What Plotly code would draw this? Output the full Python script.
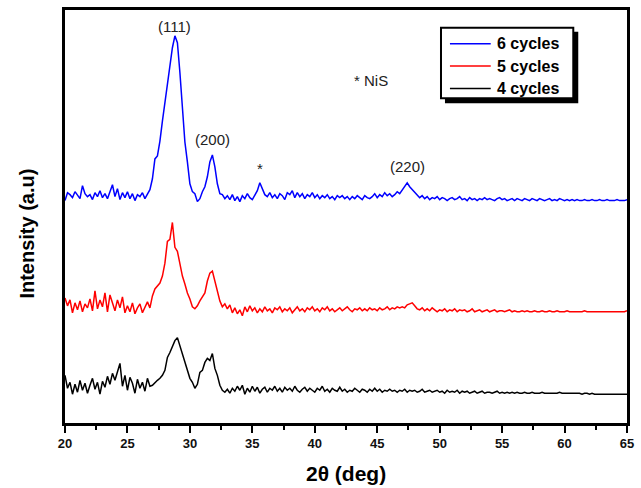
import numpy as np
import plotly.graph_objects as go

# 2-theta sampling grid (deg)
two_theta = np.round(np.arange(20.0, 65.0001, 0.2), 1)

# Intensities (a.u.), each on its own baseline
i_6cycles = [
    18, 26, 24, 21, 27, 23, 20, 33, 25, 22, 24, 19, 26, 22, 28, 21, 25, 20, 27, 34,
    22, 30, 19, 26, 21, 27, 20, 25, 18, 24, 22, 26, 20, 25, 29, 40, 60, 63, 78, 98,
    117, 137, 157, 172, 184, 177, 147, 112, 77, 57, 35, 27, 25, 17, 20, 27, 32, 42, 57, 64,
    52, 35, 25, 24, 20, 23, 19, 24, 18, 22, 17, 23, 20, 25, 21, 19, 24, 28, 36, 30,
    24, 22, 26, 21, 24, 20, 25, 23, 19, 26, 24, 28, 21, 26, 22, 25, 20, 24, 22, 26,
    21, 24, 20, 23, 21, 24, 20, 22, 19, 23, 21, 23, 20, 22, 19, 22, 20, 23, 21, 19,
    23, 21, 20, 22, 25, 21, 24, 22, 26, 23, 25, 22, 24, 27, 25, 29, 33, 36, 32, 29,
    27, 24, 21, 23, 20, 22, 19, 21, 20, 22, 19, 21, 20, 18, 20, 21, 19, 20, 22, 19,
    20, 18, 21, 19, 20, 18, 20, 19, 21, 19, 20, 19, 18, 20, 21, 19, 20, 18, 19, 20,
    18, 20, 19, 18, 20, 19, 18, 20, 19, 18, 20, 19, 18, 19, 20, 18, 19, 18, 20, 19,
    18, 19, 18, 19, 18, 19, 18, 18, 19, 18, 18, 19, 18, 18, 19, 18, 18, 19, 18, 18,
    18, 19, 18, 18, 18, 19,
]
i_5cycles = [
    30, 22, 28, 15, 25, 18, 27, 16, 24, 20, 29, 17, 37, 19, 28, 21, 35, 16, 33, 24,
    17, 28, 20, 31, 15, 22, 16, 25, 14, 20, 24, 15, 21, 26, 20, 32, 39, 42, 45, 52,
    65, 87, 89, 106, 81, 77, 65, 52, 44, 35, 29, 21, 19, 22, 27, 31, 35, 47, 55, 57,
    47, 34, 27, 21, 24, 19, 23, 15, 20, 14, 18, 12, 21, 16, 22, 17, 20, 15, 19, 16,
    21, 17, 19, 15, 20, 18, 21, 16, 19, 17, 20, 15, 18, 21, 17, 19, 16, 20, 18, 21,
    17, 19, 16, 20, 18, 21, 17, 19, 16, 18, 20, 17, 19, 21, 18, 16, 19, 18, 20, 17,
    19, 17, 20, 18, 19, 17, 20, 18, 19, 21, 18, 20, 19, 21, 20, 21, 20, 23, 24, 25,
    22, 19, 18, 20, 17, 19, 17, 20, 18, 16, 18, 17, 19, 16, 18, 17, 19, 16, 18, 17,
    18, 16, 17, 19, 16, 17, 18, 16, 17, 18, 16, 17, 18, 16, 17, 17, 16, 17, 18, 16,
    17, 16, 16, 17, 16, 17, 16, 16, 17, 16, 16, 17, 16, 16, 17, 16, 16, 17, 16, 16,
    16, 17, 16, 16, 16, 16, 16, 16, 17, 16, 16, 16, 16, 16, 16, 16, 16, 16, 16, 16,
    16, 16, 16, 16, 16, 17,
]
i_4cycles = [
    27, 14, 20, 8, 18, 10, 22, 12, 19, 9, 17, 24, 13, 20, 8, 21, 15, 26, 18, 29,
    22, 30, 39, 16, 27, 12, 25, 19, 9, 23, 14, 20, 11, 24, 16, 17, 20, 22, 24, 27,
    32, 45, 50, 57, 62, 65, 57, 47, 40, 32, 24, 20, 14, 18, 30, 32, 40, 44, 42, 49,
    34, 27, 17, 12, 10, 13, 9, 14, 11, 16, 12, 17, 8, 14, 10, 16, 11, 15, 9, 13,
    15, 10, 14, 12, 16, 11, 14, 10, 15, 12, 14, 11, 16, 12, 10, 13, 15, 11, 14, 12,
    10, 14, 12, 16, 11, 13, 10, 14, 12, 11, 15, 11, 13, 10, 12, 11, 14, 12, 10, 13,
    12, 10, 13, 11, 14, 11, 13, 10, 12, 11, 13, 11, 12, 10, 12, 11, 13, 10, 12, 11,
    12, 10, 11, 13, 10, 11, 12, 10, 11, 12, 10, 11, 9, 12, 10, 11, 10, 12, 9, 11,
    10, 11, 9, 10, 11, 9, 10, 11, 9, 10, 10, 9, 10, 11, 9, 10, 9, 10, 9, 10,
    9, 10, 9, 9, 10, 9, 9, 10, 9, 9, 9, 10, 9, 9, 9, 9, 9, 9, 10, 9,
    9, 9, 9, 9, 9, 9, 9, 8, 9, 9, 8, 9, 8, 8, 8, 8, 8, 8, 8, 8,
    8, 8, 8, 8, 8, 8,
]

series_names = ["6 cycles", "5 cycles", "4 cycles"]
series_colors = ["#0000ff", "#ff0000", "#000000"]
stack_offsets = [205, 95, 20]

peak_labels = ["(111)", "(200)", "*", "(220)", "* NiS"]
peak_label_x = [28.8, 31.8, 35.6, 47.45, 44.5]
peak_label_y = [398, 285, 255, 257, 344]

FONT = "Liberation Sans, Arial"

# plot-area pixel geometry (used only to place the hand-drawn legend and titles)
L, R, T, B = 65, 630, 7, 423
def px(xp):
    return (xp - L) / (R - L)
def py(yp):
    return (B - yp) / (B - T)

fig = go.Figure()
for name, color, off, vals in zip(series_names, series_colors, stack_offsets,
                                  [i_6cycles, i_5cycles, i_4cycles]):
    fig.add_trace(go.Scatter(
        x=two_theta, y=np.array(vals) + off, mode="lines", name=name,
        line=dict(color=color, width=1.5), showlegend=False))

for t, x, y in zip(peak_labels, peak_label_x, peak_label_y):
    fig.add_annotation(x=x, y=y, text=t, showarrow=False,
                       font=dict(family=FONT, size=15, color="#222"))

fig.add_annotation(xref="paper", yref="paper", x=px(27), y=py(232), text="<b>Intensity (a.u)</b>",
                   textangle=-90, showarrow=False, xanchor="center", yanchor="middle",
                   font=dict(family=FONT, size=20, color="#000"))
fig.add_annotation(xref="paper", yref="paper", x=px(348), y=py(474), text="<b>2θ (deg)</b>",
                   showarrow=False, xanchor="center", yanchor="middle",
                   font=dict(family=FONT, size=21, color="#000"))

# hand-drawn legend with drop shadow
fig.add_shape(type="rect", xref="paper", yref="paper", x0=px(447), x1=px(581), y0=py(101), y1=py(29),
              fillcolor="black", line=dict(width=0), layer="above")
fig.add_shape(type="rect", xref="paper", yref="paper", x0=px(443), x1=px(576), y0=py(96), y1=py(25),
              fillcolor="white", line=dict(color="black", width=2), layer="above")
for k, (name, color) in enumerate(zip(series_names, series_colors)):
    yrow = 41 + k * 22.5
    fig.add_shape(type="line", xref="paper", yref="paper", x0=px(452), x1=px(493),
                  y0=py(yrow), y1=py(yrow), line=dict(color=color, width=1.5), layer="above")
    fig.add_annotation(xref="paper", yref="paper", x=px(497), y=py(yrow), text="<b>%s</b>" % name,
                       showarrow=False, xanchor="left", yanchor="middle",
                       font=dict(family=FONT, size=16, color="#000"))

fig.update_layout(
    width=641, height=488,
    margin=dict(l=L, r=641 - R, t=T, b=488 - B),
    paper_bgcolor="white", plot_bgcolor="white",
    showlegend=False,
    font=dict(family=FONT),
)
fig.update_xaxes(range=[20, 65], tickvals=list(range(20, 66, 5)),
                 ticks="outside", ticklen=7, tickwidth=2, tickcolor="black",
                 minor=dict(dtick=2.5, tick0=20, ticks="outside", ticklen=4, tickwidth=2, tickcolor="black"),
                 showline=True, linecolor="black", linewidth=2.5, mirror=True,
                 showgrid=False, zeroline=False,
                 tickfont=dict(family=FONT, size=13, color="#111", weight="bold"))
fig.update_yaxes(range=[-1, 415], showticklabels=False, ticks="",
                 showline=True, linecolor="black", linewidth=2.5, mirror=True,
                 showgrid=False, zeroline=False)

fig.write_html("out.html", config={"displayModeBar": False},
               post_script="document.body.style.margin='0';")
